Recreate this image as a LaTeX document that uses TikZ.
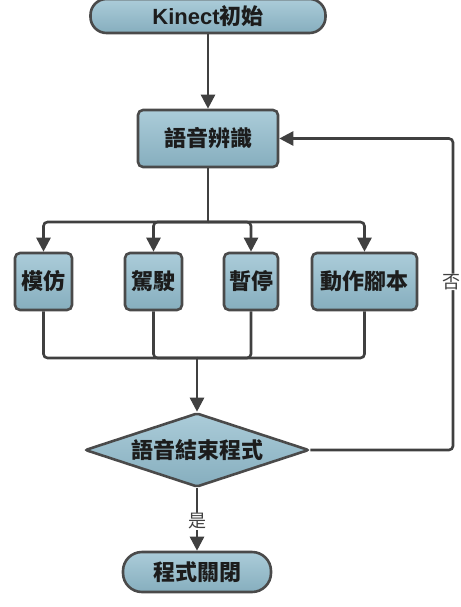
\documentclass[tikz,border=0pt]{standalone}
\usepackage{fontspec}
\setmainfont{Liberation Sans}
\newfontfamily\cjk{Noto Sans CJK TC}
\usetikzlibrary{arrows.meta,shapes.geometric}
\definecolor{boxtop}{HTML}{ABCCD9}
\definecolor{boxbot}{HTML}{86AEBE}
\definecolor{edgec}{HTML}{4A4A4A}
\definecolor{wire}{HTML}{404040}
\definecolor{ink}{HTML}{1C1C1C}
\begin{document}
\begin{tikzpicture}[x=1pt,y=-1pt,
  box/.style={draw=edgec, line width=2.6pt, rounded corners=5pt,
    top color=boxtop, bottom color=boxbot, inner sep=0pt,
    minimum height=57pt, text=ink,
    font=\cjk\bfseries\fontsize{22}{24}\selectfont},
  term/.style={box, minimum height=34pt, rounded corners=16pt},
  decision/.style={box, diamond, aspect=3, rounded corners=2pt,
    minimum width=224pt, minimum height=74pt},
  wirestyle/.style={draw=wire, line width=2.6pt, rounded corners=4pt},
  arr/.style={wirestyle, -{Triangle[length=14pt,width=14pt]}},
  lbl/.style={fill=white, inner sep=0.5pt, text=black!75,
    font=\cjk\fontsize{18}{20}\selectfont}]
\useasboundingbox (0,0) rectangle (460,607);

\node[term, minimum width=235pt] (start) at (208,16)
  {{\rmfamily\bfseries Kinect}初始};
\node[box, minimum width=140pt] (recog) at (208,138.5) {語音辨識};
\node[box, minimum width=57pt] (mimic) at (43.5,281.5) {模仿};
\node[box, minimum width=57pt] (drive) at (153.5,281.5) {駕駛};
\node[box, minimum width=54pt] (pause) at (251,281.5) {暫停};
\node[box, minimum width=105pt] (script) at (364.5,281.5) {動作腳本};
\node[decision] (dec) at (197,450) {語音結束程式};
\node[term, minimum width=148pt, minimum height=40pt, rounded corners=19pt]
  (stop) at (197,572) {程式關閉};

\coordinate (split) at (208,222);
\coordinate (merge) at (197,358);
\coordinate (fb) at (453,450);

\draw[arr] (start) -- (recog);
\draw[wirestyle] (recog.south) -- (split);
\draw[arr] (split) -| (mimic.north);
\draw[arr] (split) -| (drive.north);
\draw[arr] (split) -| (pause.north);
\draw[arr] (split) -| (script.north);

\draw[wirestyle] (mimic.south) |- (merge);
\draw[wirestyle] (drive.south) |- (merge);
\draw[wirestyle] (pause.south) |- (merge);
\draw[wirestyle] (script.south) |- (merge);
\draw[arr] (merge) -- (dec.north);

\draw[arr] (dec.east) -- (fb) |- node[lbl, pos=0.27, xshift=-1.5pt] {否} (recog.east);
\draw[arr] (dec.south) -- node[lbl, pos=0.53] {是} (stop.north);
\end{tikzpicture}
\end{document}
